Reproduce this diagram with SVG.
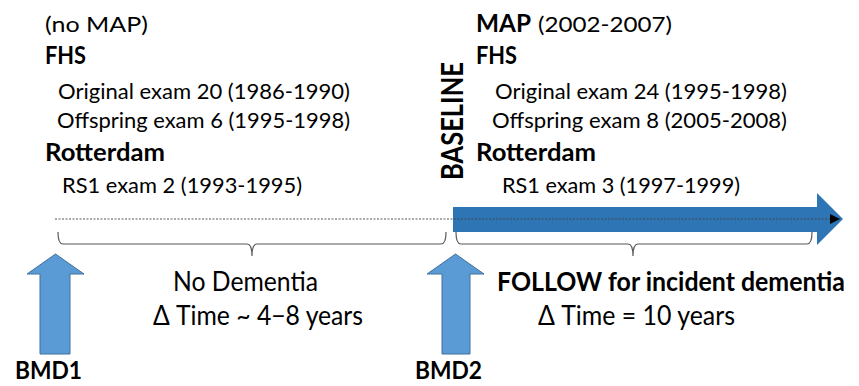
<svg xmlns="http://www.w3.org/2000/svg" width="859" height="386" viewBox="0 0 859 386">
<style>
text{font-family:Lato,"Open Sans","Liberation Sans",sans-serif;fill:#000}
.r{font-size:22px}
.b{font-size:24px;font-weight:bold}
.m{font-size:26px}
.mb{font-size:26px;font-weight:bold}
.lb{font-size:24px;font-weight:bold}
.up{fill:#5B9BD5;stroke:#41719C;stroke-width:1}
.brace{fill:none;stroke:#595959;stroke-width:1.2}
</style>
<defs>
<marker id="ah" viewBox="0 0 10 10" refX="10" refY="5" markerWidth="12" markerHeight="10" markerUnits="userSpaceOnUse" orient="auto">
<path d="M0,0 L10,5 L0,10 z" fill="#000"/>
</marker>
</defs>
<rect width="859" height="386" fill="#fff"/>

<g id="before-text">
<text class="r" x="45" y="32" textLength="103" lengthAdjust="spacingAndGlyphs">(no MAP)</text>
<text class="b" x="45" y="64" textLength="41" lengthAdjust="spacingAndGlyphs">FHS</text>
<text class="r" x="58" y="99" textLength="292" lengthAdjust="spacingAndGlyphs">Original exam 20 (1986-1990)</text>
<text class="r" x="57" y="128" textLength="293" lengthAdjust="spacingAndGlyphs">Offspring exam 6 (1995-1998)</text>
<text class="b" x="45" y="161" textLength="120" lengthAdjust="spacingAndGlyphs">Rotterdam</text>
<text class="r" x="62" y="193" textLength="240" lengthAdjust="spacingAndGlyphs">RS1 exam 2 (1993-1995)</text>
</g>

<g id="baseline-label">
<text transform="translate(463,180) rotate(-90)" x="0" y="0" textLength="118" lengthAdjust="spacingAndGlyphs" style="font-size:30px;font-weight:bold">BASELINE</text>
</g>

<g id="after-text">
<text class="b" x="476" y="32" textLength="55" lengthAdjust="spacingAndGlyphs">MAP</text>
<text class="r" x="538" y="32" textLength="134" lengthAdjust="spacingAndGlyphs">(2002-2007)</text>
<text class="b" x="476" y="64" textLength="41" lengthAdjust="spacingAndGlyphs">FHS</text>
<text class="r" x="495" y="99" textLength="292" lengthAdjust="spacingAndGlyphs">Original exam 24 (1995-1998)</text>
<text class="r" x="492" y="128" textLength="295" lengthAdjust="spacingAndGlyphs">Offspring exam 8 (2005-2008)</text>
<text class="b" x="476" y="161" textLength="120" lengthAdjust="spacingAndGlyphs">Rotterdam</text>
<text class="r" x="502" y="193" textLength="238" lengthAdjust="spacingAndGlyphs">RS1 exam 3 (1997-1999)</text>
</g>

<g id="follow-arrow">
<polygon points="453,207 817,207 817,193 843,219 817,245 817,232 453,232" fill="#2E75B6"/>
</g>

<g id="connectors">
<line x1="55" y1="219" x2="840" y2="219" stroke="#444" stroke-width="0.9" stroke-dasharray="2,1.5" marker-end="url(#ah)"/>
<path class="brace" d="M58,232 Q58,244 63,244 L247,244 Q252,244 252,256 Q252,244 257,244 L441,244 Q446,244 446,232"/>
<path class="brace" d="M456,232 Q456,244 461,244 L628,244 Q633,244 633,256 Q633,244 638,244 L807,244 Q812,244 812,232"/>
</g>

<g id="bmd1">
<polygon class="up" points="55.5,254 84,274 70,274 70,354 40,354 40,274 27,274"/>
<text class="lb" x="15" y="379" textLength="67" lengthAdjust="spacingAndGlyphs">BMD1</text>
</g>

<g id="bmd2">
<polygon class="up" points="455.5,254 484,274 470,274 470,354 442,354 442,274 427,274"/>
<text class="lb" x="415" y="379" textLength="67" lengthAdjust="spacingAndGlyphs">BMD2</text>
</g>

<g id="no-dementia">
<text class="m" x="173" y="291" textLength="145" lengthAdjust="spacingAndGlyphs">No Dementia</text>
<text class="m" x="153" y="325" textLength="210" lengthAdjust="spacingAndGlyphs">Δ Time ~ 4−8 years</text>
</g>

<g id="follow-label">
<text class="mb" x="497" y="291" textLength="348" lengthAdjust="spacingAndGlyphs">FOLLOW for incident dementia</text>
<text class="m" x="538" y="325" textLength="197" lengthAdjust="spacingAndGlyphs">Δ Time = 10 years</text>
</g>
</svg>
